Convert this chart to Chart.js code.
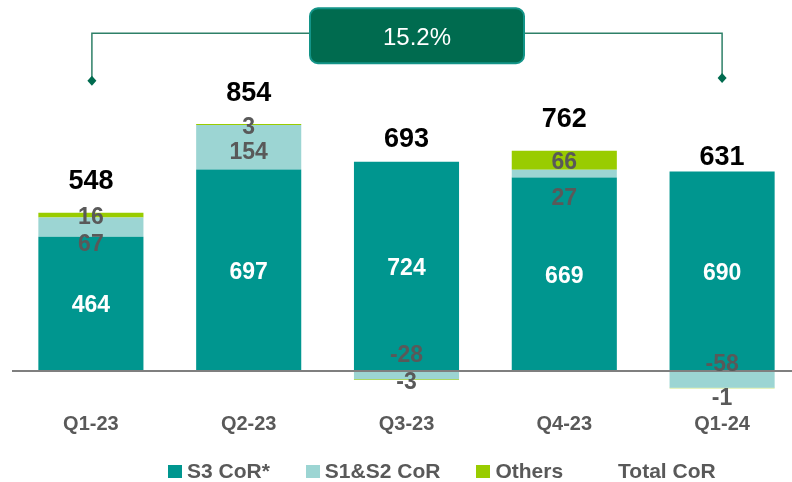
<!DOCTYPE html>
<html><head><meta charset="utf-8">
<script src="https://cdn.jsdelivr.net/npm/chart.js@4.4.1/dist/chart.umd.min.js"></script>
<style>
html,body{margin:0;padding:0;background:#fff;overflow:hidden;}
#wrap{position:relative;width:792px;height:482px;overflow:hidden;background:#fff;}
#c{position:absolute;left:0;top:0;}
#legend{position:absolute;left:168px;top:460px;white-space:nowrap;font:bold 21px/21px "Liberation Sans",Arial,sans-serif;color:#595959;}
.item{display:inline-block;margin-right:36px;}
.sw{display:inline-block;width:14px;height:13px;margin-right:5px;}
</style></head><body>
<div id="wrap"><canvas id="c" width="801" height="482"></canvas><div id="legend"></div></div>
<script>
// ---- data ----
const categories = ['Q1-23', 'Q2-23', 'Q3-23', 'Q4-23', 'Q1-24'];
const s3CoR = [464, 697, 724, 669, 690];
const s1s2CoR = [67, 154, -28, 27, -58];
const others = [16, 3, -3, 66, -1];
const totalCoR = [548, 854, 693, 762, 631];
const seriesNames = ['S3 CoR*', 'S1&S2 CoR', 'Others', 'Total CoR'];
const growthLabel = '15.2%';

// ---- styling / label nudges (px) ----
const FONT = '"Liberation Sans", Arial, sans-serif';
const colors = ['#00968F', '#9CD5D3', '#99CC00', 'rgba(0,0,0,0)'];
const labelColors = ['#FFFFFF', '#595959', '#595959'];
const labelNudge = [
  [0, 0, 0, 0, 0],
  [16, 4, -21, 23, -17],
  [1, 1, 1.5, 1, 9]
];

const overlay = {
  id: 'overlay',
  afterDraw(chart) {
    const ctx = chart.ctx, ys = chart.scales.y, xs = chart.scales.x, ca = chart.chartArea;
    ctx.save();
    // zero line
    const y0 = ys.getPixelForValue(0);
    ctx.strokeStyle = '#7F7F7F'; ctx.lineWidth = 2;
    ctx.beginPath(); ctx.moveTo(ca.left, y0); ctx.lineTo(ca.right, y0); ctx.stroke();

    const drawText = (txt, x, capCenter, size, color, weight) => {
      ctx.font = weight + ' ' + size + 'px ' + FONT;
      ctx.fillStyle = color; ctx.textAlign = 'center'; ctx.textBaseline = 'alphabetic';
      ctx.fillText(txt, x, capCenter + 0.358 * size);
    };
    // segment labels
    for (let i = 0; i < 3; i++) {
      const meta = chart.getDatasetMeta(i);
      const data = chart.data.datasets[i].data;
      meta.data.forEach((bar, j) => {
        const p = bar.getProps(['x', 'y', 'base'], true);
        drawText(String(data[j]), p.x, (p.y + p.base) / 2 + labelNudge[i][j], 23, labelColors[i], 'bold');
      });
    }
    // totals
    const tm = chart.getDatasetMeta(3);
    tm.data.forEach((pt, j) => {
      const p = pt.getProps(['x', 'y'], true);
      drawText(String(totalCoR[j]), p.x, p.y - 33, 27, '#000000', 'bold');
    });

    // growth bracket
    const xl = xs.getPixelForValue(0) + 1, xr = xs.getPixelForValue(categories.length - 1);
    const yTop = ys.getPixelForValue(1168);
    const yDL = ys.getPixelForValue(1004), yDR = ys.getPixelForValue(1013);
    ctx.strokeStyle = '#2E8068'; ctx.lineWidth = 1.5;
    ctx.beginPath();
    ctx.moveTo(xl, yDL); ctx.lineTo(xl, yTop); ctx.lineTo(xr, yTop); ctx.lineTo(xr, yDR);
    ctx.stroke();
    ctx.fillStyle = '#006B4F';
    [[xl, yDL], [xr, yDR]].forEach(([x, y]) => {
      ctx.beginPath();
      ctx.moveTo(x, y - 5); ctx.lineTo(x + 4.5, y); ctx.lineTo(x, y + 5); ctx.lineTo(x - 4.5, y);
      ctx.closePath(); ctx.fill();
    });
    const bw = 214, bh = 55;
    const bcx = (xl + xr) / 2 + 10, bcy = yTop + 2.5;
    ctx.beginPath();
    if (ctx.roundRect) ctx.roundRect(bcx - bw / 2, bcy - bh / 2, bw, bh, 8);
    else ctx.rect(bcx - bw / 2, bcy - bh / 2, bw, bh);
    ctx.fillStyle = '#006B4F'; ctx.fill();
    ctx.strokeStyle = '#139488'; ctx.lineWidth = 2; ctx.stroke();
    drawText(growthLabel, bcx, bcy + 0.5, 24, '#FFFFFF', 'normal');
    ctx.restore();
  }
};

const barDs = (label, data, color) => ({
  type: 'bar', label, data, backgroundColor: color, borderWidth: 0,
  barPercentage: 0.666, categoryPercentage: 1, stack: 'cor'
});

const chart = new Chart(document.getElementById('c'), {
  data: {
    labels: categories,
    datasets: [
      barDs(seriesNames[0], s3CoR, colors[0]),
      barDs(seriesNames[1], s1s2CoR, colors[1]),
      barDs(seriesNames[2], others, colors[2]),
      { type: 'line', label: seriesNames[3], data: totalCoR, showLine: false, pointRadius: 0,
        borderColor: colors[3], backgroundColor: colors[3], stack: 'total' }
    ]
  },
  options: {
    responsive: false, animation: false, devicePixelRatio: 1, events: [],
    layout: { padding: { left: 12, right: 0, top: 24, bottom: 34 } },
    plugins: { legend: { display: false }, tooltip: { enabled: false } },
    scales: {
      x: { stacked: true, grid: { display: false, drawTicks: false }, border: { display: false },
           ticks: { color: '#595959', font: { family: FONT, size: 20, weight: 'bold' }, padding: 12 } },
      y: { stacked: true, display: false, min: -100, max: 1200 }
    }
  },
  plugins: [overlay]
});

// HTML legend built from datasets
const lg = document.getElementById('legend');
chart.data.datasets.forEach((ds, i) => {
  const it = document.createElement('span'); it.className = 'item';
  const sw = document.createElement('span'); sw.className = 'sw'; sw.style.background = colors[i];
  it.appendChild(sw); it.appendChild(document.createTextNode(ds.label));
  lg.appendChild(it);
});
</script>
</body></html>
